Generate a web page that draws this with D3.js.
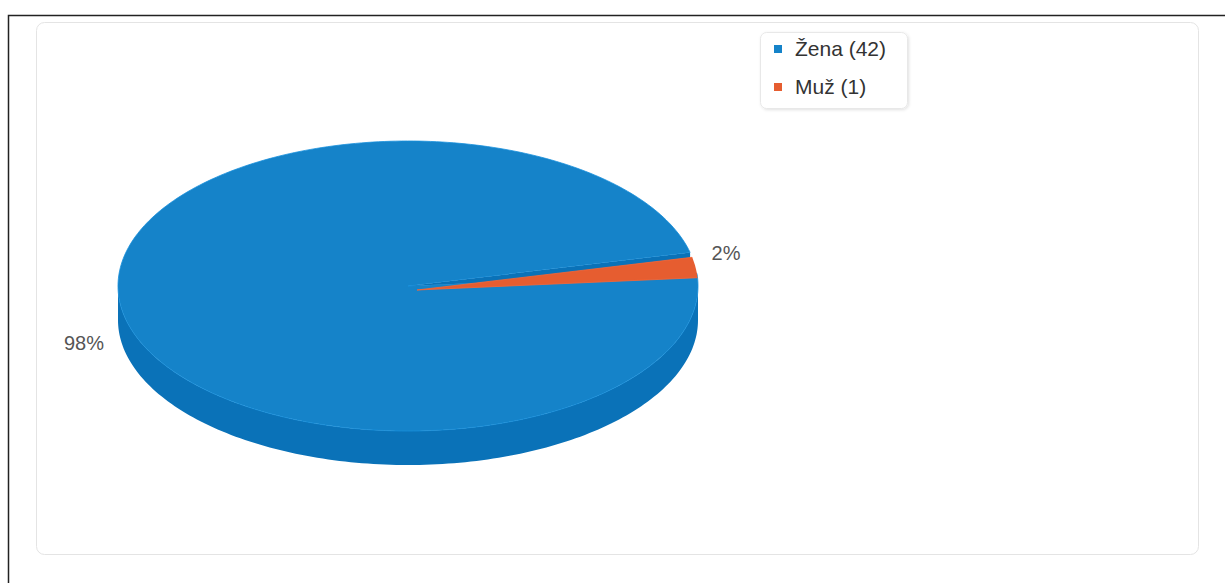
<!DOCTYPE html>
<html><head><meta charset="utf-8">
<script src="https://cdn.jsdelivr.net/npm/d3@7"></script>
<style>
html,body{margin:0;padding:0;background:#fff;}
svg{display:block;font-family:"Liberation Sans",Arial,Helvetica,sans-serif;}
</style></head>
<body>
<svg id="chart" width="1225" height="583"></svg>
<script>
const categories = ["Žena", "Muž"];
const counts = [42, 1];
const percentLabels = ["98%", "2%"];
const topColors = ["#1583c9", "#e65d30"];
const sideColors = ["#0a72b8", "#cf5026"];

const svg = d3.select("#chart");

// outer frame
svg.append("path").attr("d","M8.5,583 L8.5,15.5 L1225,15.5").attr("fill","none").attr("stroke","#222").attr("stroke-width",1.5);

const defs = svg.append("defs");
const f = defs.append("filter").attr("id","sh").attr("x","-10%").attr("y","-10%").attr("width","120%").attr("height","130%");
f.append("feDropShadow").attr("dx",1).attr("dy",1).attr("stdDeviation",1.5).attr("flood-color","#000").attr("flood-opacity",0.12);
svg.append("rect").attr("x",36.5).attr("y",22.5).attr("width",1162).attr("height",532).attr("rx",8)
  .attr("fill","#fff").attr("stroke","#e4e4e4").attr("stroke-width",1);

const cx = 408, cy = 286, rx = 290, ry = 145, depth = 34;
const tilt = 5 * Math.PI / 180;          // pie rotated slightly counter-clockwise
const sliceOffset = [[0,0],[9,4]];       // small slice pulled out

const pie = d3.pie().sort(null).startAngle(Math.PI/2 - tilt).endAngle(Math.PI/2 - tilt + 2*Math.PI);
const arcs = pie(counts);

function pt(a, r, o, dz){ return [cx + o[0] + r*rx*Math.sin(a), cy + o[1] - r*ry*Math.cos(a) + (dz||0)]; }
function samples(a0, a1){ const n = Math.max(2, Math.ceil(Math.abs(a1-a0)/0.02)); return d3.range(n+1).map(i => a0 + (a1-a0)*i/n); }
const line = d3.line();
const g = svg.append("g");

const [blue, orange] = arcs;

defs.append("clipPath").attr("id","topEllipse").append("ellipse")
  .attr("cx",cx).attr("cy",cy).attr("rx",rx).attr("ry",ry);
defs.append("clipPath").attr("id","gap").append("path")
  .attr("d", line([pt(0,0,[0,0],0)].concat(samples(orange.startAngle, orange.endAngle).map(a => pt(a,1,[0,0],0)))) + "Z");

function outerWall(d, i){
  const o = sliceOffset[i];
  const w0 = Math.max(d.startAngle, Math.PI/2), w1 = Math.min(d.endAngle, 3*Math.PI/2);
  if (w1 <= w0) return;
  const s = samples(w0, w1);
  const top = s.map(a => pt(a,1,o,0));
  const bot = s.slice().reverse().map(a => pt(a,1,o,depth));
  g.append("path").attr("d", line(top.concat(bot)) + "Z").attr("fill", sideColors[i]);
}
function radialWall(i, a, clip){
  const o = sliceOffset[i];
  g.append("path").attr("d", line([pt(a,0,o,0),pt(a,1,o,0),pt(a,1,o,depth),pt(a,0,o,depth)]) + "Z")
    .attr("fill", sideColors[i]).attr("clip-path", clip);
}
function topFace(d, i, clip){
  const o = sliceOffset[i];
  const s = samples(d.startAngle, d.endAngle);
  const pts = [pt(0,0,o,0)].concat(s.map(a => pt(a,1,o,0)));
  g.append("path").attr("d", line(pts) + "Z").attr("fill", topColors[i])
    .attr("stroke", d3.color(topColors[i]).brighter(0.25)).attr("stroke-width", 0.8)
    .attr("clip-path", clip);
}

outerWall(blue, 0);
topFace(blue, 0, null);
radialWall(0, blue.endAngle, "url(#gap)");
topFace(orange, 1, "url(#topEllipse)");

// data labels
const labelPos = [[84, 343], [726, 253]];
svg.selectAll("text.dl").data(percentLabels).join("text").attr("class","dl")
  .attr("x",(d,i)=>labelPos[i][0]).attr("y",(d,i)=>labelPos[i][1]+7)
  .attr("text-anchor","middle").attr("font-size",20).attr("fill","#555").text(d=>d);

// legend
const lg = svg.append("g");
lg.append("rect").attr("x",760.5).attr("y",32.5).attr("width",147).attr("height",76).attr("rx",6)
  .attr("fill","#fff").attr("stroke","#e8e8e8").attr("filter","url(#sh)");
categories.forEach((c,i)=>{
  const y = 49 + i*38;
  lg.append("rect").attr("x",774).attr("y",y-4).attr("width",8).attr("height",8).attr("fill",topColors[i]);
  lg.append("text").attr("x",795).attr("y",y+7).attr("font-size",21).attr("fill","#333").text(`${c} (${counts[i]})`);
});
</script>
</body></html>
